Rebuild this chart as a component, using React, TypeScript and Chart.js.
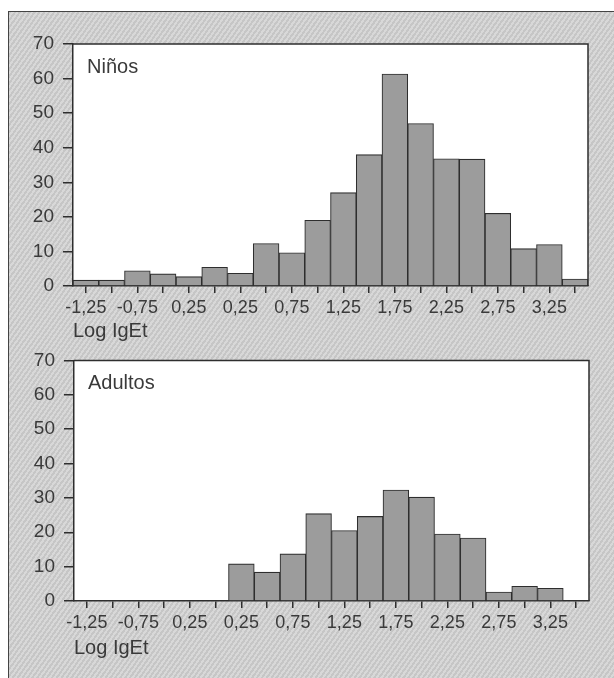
import React, { useEffect, useRef } from "react";
import { Chart, registerables } from "chart.js";

Chart.register(...registerables);

const binLabels = ["-1,25", "", "-0,75", "", "0,25", "", "0,25", "", "0,75", "", "1,25", "", "1,75", "", "2,25", "", "2,75", "", "3,25", ""];
const ninosValues = [1.7, 1.7, 4.4, 3.5, 2.7, 5.4, 3.7, 12.3, 9.6, 19.0, 27.0, 38.0, 61.3, 47.0, 36.8, 36.7, 21.0, 10.8, 12.0, 2.0];
const adultosValues = [0, 0, 0, 0, 0, 0, 10.8, 8.4, 13.7, 25.4, 20.5, 24.6, 32.3, 30.2, 19.5, 18.3, 2.6, 4.3, 3.7, 0];
const yTickValues = [0, 10, 20, 30, 40, 50, 60, 70];
const xTitle = "Log IgEt";
const panelNames = ["Niños", "Adultos"];

const FONT = "'Liberation Sans', Arial, Helvetica, sans-serif";
const TEXT = "#3a3a3a";
const LINE = "#2e2e2e";

const framePlugin = {
  id: "frameAndName",
  beforeDraw(chart: any) {
    const { ctx, chartArea } = chart;
    ctx.save();
    ctx.fillStyle = "#ffffff";
    ctx.fillRect(chartArea.left, chartArea.top, chartArea.right - chartArea.left, chartArea.bottom - chartArea.top);
    ctx.restore();
  },
  afterDraw(chart: any) {
    const { ctx, chartArea } = chart;
    ctx.save();
    ctx.strokeStyle = LINE;
    ctx.lineWidth = 1.5;
    ctx.beginPath();
    ctx.moveTo(chartArea.left, chartArea.top);
    ctx.lineTo(chartArea.right, chartArea.top);
    ctx.lineTo(chartArea.right, chartArea.bottom);
    ctx.stroke();
    const name = chart.data.datasets[0].label;
    ctx.fillStyle = TEXT;
    ctx.font = `20px ${FONT}`;
    ctx.textBaseline = "middle";
    ctx.textAlign = "left";
    ctx.fillText(name, chartArea.left + 14, chartArea.top + 23);
    ctx.restore();
  },
};

function makeConfig(values: number[], name: string, p: any) {
  return {
    type: "bar",
    data: {
      labels: binLabels,
      datasets: [
        {
          label: name,
          data: values,
          backgroundColor: "#9c9c9c",
          borderColor: LINE,
          borderWidth: 1.1,
          barPercentage: 1,
          categoryPercentage: 1,
        },
      ],
    },
    options: {
      animation: false,
      responsive: false,
      maintainAspectRatio: false,
      layout: { padding: { left: 0, right: p.right, top: p.top, bottom: 0 } },
      plugins: { legend: { display: false }, tooltip: { enabled: false } },
      scales: {
        x: {
          type: "category",
          offset: true,
          afterFit: (s: any) => {
            s.height = p.xHeight;
          },
          grid: {
            display: true,
            offset: false,
            drawOnChartArea: false,
            drawTicks: true,
            tickLength: 7,
            color: LINE,
            lineWidth: 1.5,
          },
          border: { display: true, color: LINE, width: 1.5 },
          ticks: {
            autoSkip: false,
            maxRotation: 0,
            minRotation: 0,
            color: TEXT,
            padding: 4,
            font: { family: FONT, size: 18 },
          },
          title: {
            display: true,
            text: xTitle,
            align: "start",
            color: TEXT,
            font: { family: FONT, size: 20 },
            padding: { top: 0, bottom: p.titleBottom },
          },
        },
        y: {
          min: 0,
          max: 70,
          afterFit: (s: any) => {
            s.width = p.left;
          },
          afterBuildTicks: (s: any) => {
            s.ticks = yTickValues.map((v) => ({ value: v }));
          },
          grid: {
            display: true,
            drawOnChartArea: false,
            drawTicks: true,
            tickLength: 10,
            color: LINE,
            lineWidth: 1.5,
          },
          border: { display: true, color: LINE, width: 1.5 },
          ticks: {
            color: TEXT,
            padding: 9,
            font: { family: FONT, size: 19 },
          },
        },
      },
    },
    plugins: [framePlugin],
  };
}

function Panel(props: { values: number[]; name: string; top: number; height: number; p: any }) {
  const ref = useRef<HTMLCanvasElement | null>(null);
  useEffect(() => {
    if (!ref.current) return;
    const chart = new Chart(ref.current, makeConfig(props.values, props.name, props.p) as any);
    return () => chart.destroy();
  }, []);
  return (
    <canvas
      ref={ref}
      width={614}
      height={props.height}
      style={{ position: "absolute", left: 0, top: props.top, width: 614, height: props.height }}
    />
  );
}

export default function App() {
  return (
    <div style={{ position: "fixed", left: 0, top: 0, width: 614, height: 678, background: "#ffffff", overflow: "hidden" }}>
      <div
        style={{
          position: "absolute",
          left: 8,
          top: 11,
          width: 614 - 8,
          height: 678 - 11,
          borderLeft: "1.5px solid #444",
          borderTop: "1.5px solid #444",
          background:
            "repeating-linear-gradient(125deg, #c6c6c6 0px, #c6c6c6 2px, #d8d8d8 2px, #d8d8d8 4px)",
        }}
      />
      <Panel values={ninosValues} name={panelNames[0]} top={0} height={345} p={{ left: 73, right: 26, top: 44, xHeight: 59, titleBottom: 2 }} />
      <Panel values={adultosValues} name={panelNames[1]} top={340} height={338} p={{ left: 74, right: 25, top: 20, xHeight: 77, titleBottom: 18 }} />
    </div>
  );
}
